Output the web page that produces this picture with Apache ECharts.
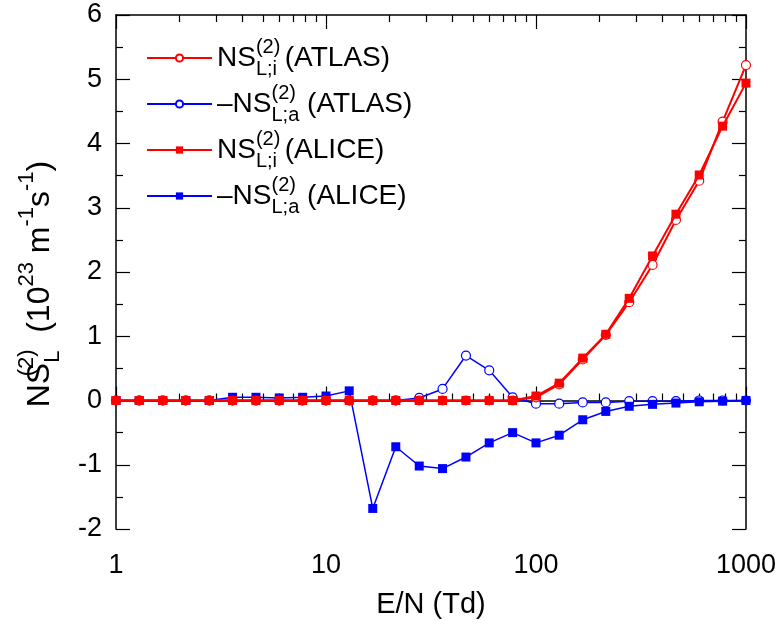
<!DOCTYPE html>
<html><head><meta charset="utf-8">
<script src="https://cdn.jsdelivr.net/npm/echarts@6/dist/echarts.min.js"></script>
<style>html,body{margin:0;padding:0;background:#fff}#c{width:779px;height:624px}</style>
</head><body><div id="c"></div><script>
const EN = [1, 1.29, 1.67, 2.15, 2.78, 3.59, 4.64, 5.99, 7.74, 10, 12.9, 16.7, 21.5, 27.8, 35.9, 46.4, 59.9, 77.4, 100, 129, 167, 215, 278, 359, 464, 599, 774, 1000];
const atlasI = [0, 0, 0, 0, 0, 0, 0, 0, 0, 0, 0, 0, 0, 0, 0, 0, 0, 0, 0.05, 0.25, 0.64, 1.02, 1.53, 2.11, 2.81, 3.42, 4.34, 5.22];
const aliceI = [0, 0, 0, 0, 0, 0, 0, 0, 0, 0, 0, 0, 0, 0, 0, 0, 0, 0, 0.07, 0.27, 0.66, 1.03, 1.59, 2.25, 2.90, 3.51, 4.27, 4.94];
const atlasA = [0, 0, 0, 0, 0, 0, 0, 0, 0, 0, 0, 0, 0, 0.04, 0.18, 0.70, 0.47, 0.05, -0.05, -0.05, -0.03, -0.03, -0.01, -0.01, -0.01, 0, 0, 0];
const aliceA = [0, 0, 0, 0, 0, 0.05, 0.05, 0.04, 0.05, 0.07, 0.15, -1.68, -0.72, -1.02, -1.06, -0.88, -0.66, -0.50, -0.66, -0.54, -0.30, -0.17, -0.09, -0.06, -0.04, -0.02, -0.01, 0];
const xMajorTicks = [1, 10, 100, 1000];
const xMinorTicks = [2, 3, 4, 5, 6, 7, 8, 9, 20, 30, 40, 50, 60, 70, 80, 90, 200, 300, 400, 500, 600, 700, 800, 900];
const names = ['NS(2)L;i (ATLAS)', '\u2013NS(2)L;a (ATLAS)', 'NS(2)L;i (ALICE)', '\u2013NS(2)L;a (ALICE)'];

const FONT = "'Liberation Sans', Arial, sans-serif";
const RED = '#ff0000', BLUE = '#0000ff';
const pairs = ys => EN.map((x, i) => [x, ys[i]]);
const legendRich = {
  m: {fontSize: 28, fontFamily: FONT, color: '#000', verticalAlign: 'middle', lineHeight: 42},
  sup: {fontSize: 20, fontFamily: FONT, color: '#000', verticalAlign: 'top', lineHeight: 18, width: 0},
  sub: {fontSize: 20, fontFamily: FONT, color: '#000', verticalAlign: 'bottom', lineHeight: 18}
};
const titleRich = {
  m: {fontSize: 32, fontFamily: FONT, color: '#000', verticalAlign: 'middle', lineHeight: 48},
  sup: {fontSize: 22, fontFamily: FONT, color: '#000', verticalAlign: 'top', lineHeight: 20, width: 0},
  sup2: {fontSize: 22, fontFamily: FONT, color: '#000', verticalAlign: 'top', lineHeight: 20},
  sub: {fontSize: 22, fontFamily: FONT, color: '#000', verticalAlign: 'bottom', lineHeight: 20}
};
function legendFmt(n) {
  const m = n.match(/^(\u2013?NS)\(2\)(L;[ia])(.*)$/);
  return '{m|' + m[1] + '}{sup|(2)}{sub|' + m[2] + '}{m|' + m[3] + '}';
}
const axisLineStyle = {color: '#000', width: 1.5};
const tickLine = {color: '#000', width: 1.2};
const chart = echarts.init(document.getElementById('c'), null, {renderer: 'canvas'});
const xBase = {type: 'log', logBase: 10, min: 1, max: 1000, gridIndex: 0};
chart.setOption({
  animation: false,
  backgroundColor: '#fff',
  grid: {left: 116, right: 30, top: 15, bottom: 94, containLabel: false},
  legend: {
    orient: 'vertical', left: 141, top: 32, itemWidth: 65, itemHeight: 9, itemGap: 4,
    data: names, formatter: legendFmt,
    textStyle: {rich: legendRich, fontFamily: FONT}
  },
  xAxis: [
    Object.assign({}, xBase, {
      position: 'bottom', name: 'E/N (Td)', nameLocation: 'middle', nameGap: 61,
      nameTextStyle: {fontSize: 29, fontFamily: FONT, color: '#000'},
      axisLine: {show: true, lineStyle: axisLineStyle},
      axisTick: {show: true, inside: true, length: 14, customValues: xMajorTicks, lineStyle: tickLine},
      axisLabel: {show: true, customValues: xMajorTicks, fontSize: 27, fontFamily: FONT, color: '#000', margin: 23,
                  formatter: v => String(v)},
      splitLine: {show: false}
    }),
    Object.assign({}, xBase, {
      position: 'bottom', axisLine: {show: false},
      axisTick: {show: true, inside: true, length: 7, customValues: xMinorTicks, lineStyle: tickLine},
      axisLabel: {show: false}, splitLine: {show: false}
    }),
    Object.assign({}, xBase, {
      position: 'top', axisLine: {show: true, lineStyle: axisLineStyle},
      axisTick: {show: true, inside: true, length: 14, customValues: xMajorTicks, lineStyle: tickLine},
      axisLabel: {show: false}, splitLine: {show: false}
    }),
    Object.assign({}, xBase, {
      position: 'top', axisLine: {show: false},
      axisTick: {show: true, inside: true, length: 7, customValues: xMinorTicks, lineStyle: tickLine},
      axisLabel: {show: false}, splitLine: {show: false}
    })
  ],
  yAxis: [
    {
      type: 'value', min: -2, max: 6, interval: 1, position: 'left',
      name: '{m|NS}{sup|(2)}{sub|L}{m|  (10}{sup2|23}{m| m}{sup2|-1}{m|s}{sup2|-1}{m|)}',
      nameLocation: 'middle', nameGap: 52, nameRotate: 90,
      nameTextStyle: {rich: titleRich, fontFamily: FONT, padding: [0, 24, 0, 0]},
      axisLine: {show: true, lineStyle: axisLineStyle},
      axisTick: {show: true, inside: true, length: 14, lineStyle: tickLine},
      minorTick: {show: true, splitNumber: 2, length: 7, lineStyle: tickLine},
      axisLabel: {fontSize: 27, fontFamily: FONT, color: '#000', margin: 14},
      splitLine: {show: false}
    },
    {
      type: 'value', min: -2, max: 6, interval: 1, position: 'right',
      axisLine: {show: true, lineStyle: axisLineStyle},
      axisTick: {show: true, inside: true, length: 14, lineStyle: tickLine},
      minorTick: {show: true, splitNumber: 2, length: 7, lineStyle: tickLine},
      axisLabel: {show: false}, splitLine: {show: false}
    }
  ],
  series: [
    {name: names[1], type: 'line', data: pairs(atlasA), symbol: 'circle', symbolSize: 9,
     lineStyle: {color: BLUE, width: 1.5}, itemStyle: {color: '#fff', borderColor: BLUE, borderWidth: 1.2}, z: 2},
    {name: names[3], type: 'line', data: pairs(aliceA), symbol: 'rect', symbolSize: 9,
     lineStyle: {color: BLUE, width: 1.5}, itemStyle: {color: BLUE, borderColor: BLUE, borderWidth: 0}, z: 3},
    {name: names[0], type: 'line', data: pairs(atlasI), symbol: 'circle', symbolSize: 9,
     lineStyle: {color: RED, width: 2}, itemStyle: {color: '#fff', borderColor: RED, borderWidth: 1.2}, z: 4},
    {name: names[2], type: 'line', data: pairs(aliceI), symbol: 'rect', symbolSize: 9,
     lineStyle: {color: RED, width: 2}, itemStyle: {color: RED, borderColor: RED, borderWidth: 0}, z: 5}
  ]
});
</script></body></html>
